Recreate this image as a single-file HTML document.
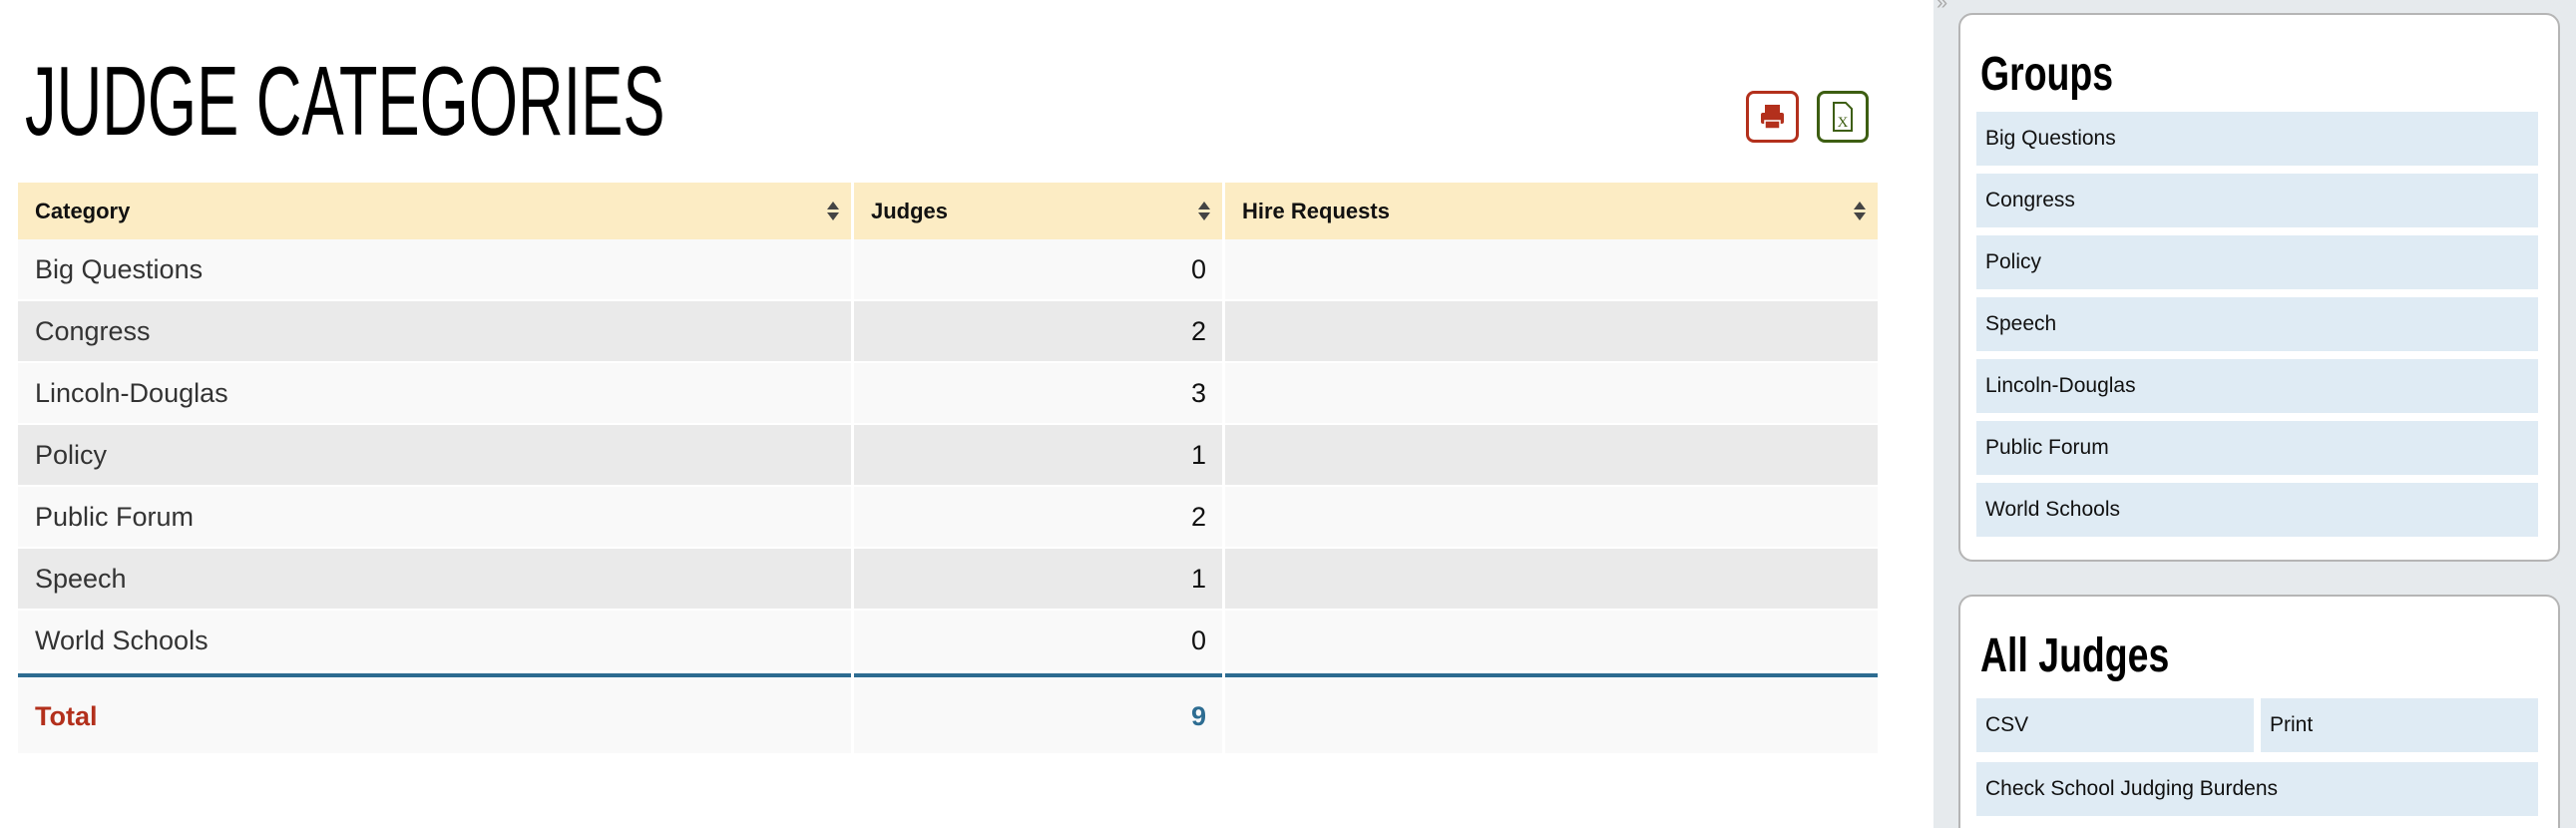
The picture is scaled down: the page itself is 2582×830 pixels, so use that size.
<!DOCTYPE html>
<html><head><meta charset="utf-8"><style>
*{margin:0;padding:0;box-sizing:border-box}
html,body{width:2582px;height:830px;overflow:hidden}
body{background:#fff;font-family:"Liberation Sans",sans-serif;position:relative}
.a{position:absolute}
.title{left:25px;top:52px;font-size:98px;line-height:98px;color:#000;transform:scaleX(.645);transform-origin:left top;white-space:nowrap}
.hd{background:#fcecc4;height:57px;top:183px;font-weight:bold;font-size:22px;line-height:57px;padding-left:17px;color:#111}
.num{text-align:right;padding-right:16px;color:#111}
.sort{position:absolute;right:12px;top:19px;width:12px;height:20px}
.sort:before{content:"";position:absolute;left:0;top:0;border-left:6px solid transparent;border-right:6px solid transparent;border-bottom:8px solid #444}
.sort:after{content:"";position:absolute;left:0;top:11px;border-left:6px solid transparent;border-right:6px solid transparent;border-top:8px solid #444}
.side{left:1938px;top:0;width:644px;height:830px;background:#e6eaed}
.box{background:#fff;border:2px solid #b5b5b5;border-radius:14px;left:1963px;width:603px}
.h2{font-weight:bold;font-size:48px;color:#000;transform:scaleX(.78);transform-origin:left top;white-space:nowrap;left:1985px}
.it{background:#dfebf4;height:54px;line-height:54px;font-size:21px;color:#111;padding-left:9px}
</style></head><body>
<div class="a title">JUDGE CATEGORIES</div>
<div class="a" style="left:1750px;top:91px;width:53px;height:52px;border:3px solid #b3301c;border-radius:8px">
<svg width="47" height="46" viewBox="0 0 47 46"><rect x="16" y="11" width="15" height="8" fill="#b3301c"/><rect x="12" y="19" width="23" height="11" rx="2" fill="#b3301c"/><rect x="16" y="27" width="15" height="8" fill="#b3301c" stroke="#fff" stroke-width="1.5"/></svg></div>
<div class="a" style="left:1821px;top:91px;width:52px;height:52px;border:3px solid #3d5e12;border-radius:8px">
<svg width="46" height="46" viewBox="0 0 46 46"><path d="M14 9h12l6 6v22H14z" fill="none" stroke="#3d5e12" stroke-width="2"/><text x="23" y="33" font-size="15" font-family="Liberation Serif" fill="#3d5e12" text-anchor="middle">X</text></svg></div>

<div class="a hd" style="left:18px;width:835px">Category<span class="sort"></span></div>
<div class="a hd" style="left:856px;width:369px">Judges<span class="sort"></span></div>
<div class="a hd" style="left:1228px;width:654px">Hire Requests<span class="sort"></span></div>

<div class="a" style="left:18px;top:240px;width:1864px">
<table style="border-collapse:separate;border-spacing:3px 2px;margin:-2px -3px;width:1870px;font-size:27px;color:#333">
<colgroup><col style="width:835px"><col style="width:369px"><col style="width:654px"></colgroup>
<tr style="background:#f9f9f9;height:60px"><td style="padding-left:17px">Big Questions</td><td class="num">0</td><td></td></tr>
<tr style="background:#eaeaea;height:60px"><td style="padding-left:17px">Congress</td><td class="num">2</td><td></td></tr>
<tr style="background:#f9f9f9;height:60px"><td style="padding-left:17px">Lincoln-Douglas</td><td class="num">3</td><td></td></tr>
<tr style="background:#eaeaea;height:60px"><td style="padding-left:17px">Policy</td><td class="num">1</td><td></td></tr>
<tr style="background:#f9f9f9;height:60px"><td style="padding-left:17px">Public Forum</td><td class="num">2</td><td></td></tr>
<tr style="background:#eaeaea;height:60px"><td style="padding-left:17px">Speech</td><td class="num">1</td><td></td></tr>
<tr style="background:#f9f9f9;height:60px"><td style="padding-left:17px">World Schools</td><td class="num">0</td><td></td></tr>
</table></div>
<div class="a" style="left:18px;top:675px;width:1864px;height:4px;background:#2e6d92"></div>
<div class="a" style="left:853px;top:675px;width:3px;height:80px;background:#fff"></div>
<div class="a" style="left:1225px;top:675px;width:3px;height:80px;background:#fff"></div>
<div class="a" style="left:18px;top:681px;width:835px;height:74px;background:#f9f9f9;font-weight:bold;font-size:27px;line-height:74px;color:#b3301c;padding-left:17px">Total</div>
<div class="a" style="left:856px;top:681px;width:369px;height:74px;background:#f9f9f9;font-weight:bold;font-size:27px;line-height:74px;color:#2e6d92;text-align:right;padding-right:16px">9</div>
<div class="a" style="left:1228px;top:681px;width:654px;height:74px;background:#f9f9f9"></div>

<div class="a side"></div>
<div class="a" style="left:1941px;top:-8px;color:#aaa;font-size:20px">»</div>
<div class="a box" style="top:13px;height:550px"></div>
<div class="a h2" style="top:47px">Groups</div>
<div class="a it" style="left:1981px;width:563px;top:112px">Big Questions</div>
<div class="a it" style="left:1981px;width:563px;top:174px">Congress</div>
<div class="a it" style="left:1981px;width:563px;top:236px">Policy</div>
<div class="a it" style="left:1981px;width:563px;top:298px">Speech</div>
<div class="a it" style="left:1981px;width:563px;top:360px">Lincoln-Douglas</div>
<div class="a it" style="left:1981px;width:563px;top:422px">Public Forum</div>
<div class="a it" style="left:1981px;width:563px;top:484px">World Schools</div>
<div class="a box" style="top:596px;height:234px;border-bottom:none;border-radius:14px 14px 0 0"></div>
<div class="a h2" style="top:630px">All Judges</div>
<div class="a it" style="left:1981px;width:278px;top:700px">CSV</div>
<div class="a it" style="left:2266px;width:278px;top:700px">Print</div>
<div class="a it" style="left:1981px;width:563px;top:764px">Check School Judging Burdens</div>
</body></html>
